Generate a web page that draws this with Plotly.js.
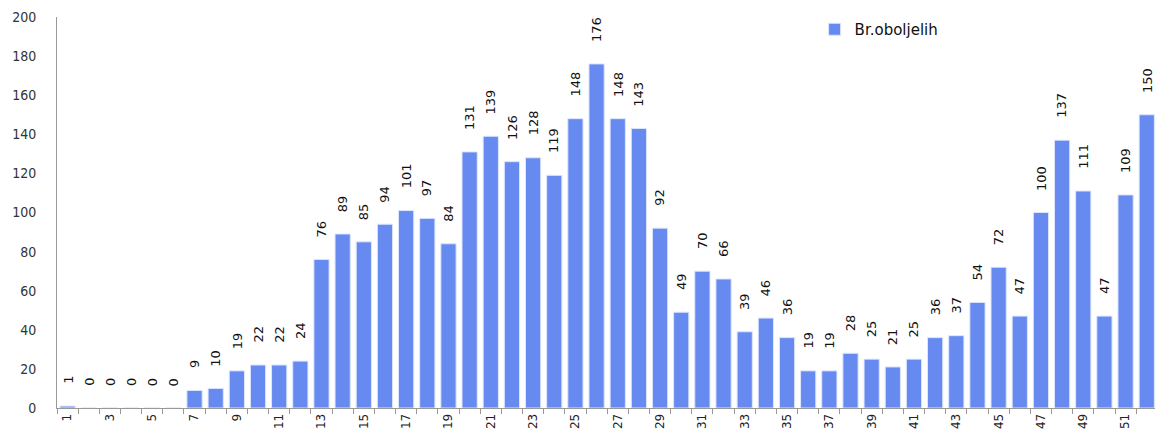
<!DOCTYPE html>
<html>
<head>
<meta charset="utf-8">
<script src="https://cdn.plot.ly/plotly-3.0.1.min.js"></script>
<style>html,body{margin:0;padding:0;background:#fff;}#chart{width:1155px;height:444px;}</style>
</head>
<body>
<div id="chart"></div>
<script>
const weeks = [1,2,3,4,5,6,7,8,9,10,11,12,13,14,15,16,17,18,19,20,21,22,23,24,25,26,27,28,29,30,31,32,33,34,35,36,37,38,39,40,41,42,43,44,45,46,47,48,49,50,51,52];
const cases = [1,0,0,0,0,0,9,10,19,22,22,24,76,89,85,94,101,97,84,131,139,126,128,119,148,176,148,143,92,49,70,66,39,46,36,19,19,28,25,21,25,36,37,54,72,47,100,137,111,47,109,150];
const seriesName = 'Br.oboljelih';
const xTickVals = weeks.filter(w => w % 2 === 1);
const xTickText = xTickVals.map(String);
const yTickVals = [0,20,40,60,80,100,120,140,160,180,200];

const labelFont = {family: 'DejaVu Sans', size: 13, color: '#111'};
const annotations = weeks.map((w, i) => ({
  x: w, y: cases[i], xref: 'x', yref: 'y',
  text: String(cases[i]), textangle: -90, showarrow: false,
  xanchor: 'center', yanchor: 'bottom', yshift: 20, font: labelFont
}));

const trace = {
  type: 'bar', x: weeks, y: cases, name: seriesName,
  marker: {color: '#678af0', line: {color: '#dce6ff', width: 1}},
  showlegend: true
};

const layout = {
  width: 1155, height: 444,
  margin: {l: 57, r: 0, t: 17, b: 36},
  paper_bgcolor: '#fff', plot_bgcolor: '#fff',
  bargap: 0.28,
  showlegend: true,
  legend: {x: 0.69, y: 0.968, xanchor: 'left', yanchor: 'middle', bgcolor: 'rgba(0,0,0,0)',
           font: {family: 'DejaVu Sans', size: 15, color: '#111'}, itemwidth: 30},
  xaxis: {
    range: [0.5, 52.39], tickmode: 'array', tickvals: xTickVals, ticktext: xTickText,
    tickangle: -90, ticks: '', showgrid: false, zeroline: false,
    showline: true, linecolor: '#999', linewidth: 1,
    tickfont: {family: 'DejaVu Sans', size: 12, color: '#222'},
    minor: {tickmode: 'linear', tick0: 0.5, dtick: 1, ticks: 'outside', ticklen: 5, tickcolor: '#999', showgrid: false}
  },
  yaxis: {
    range: [0, 200], tickmode: 'array', tickvals: yTickVals,
    ticks: 'outside', ticklen: 17, tickcolor: 'rgba(0,0,0,0)', showgrid: false, zeroline: false,
    showline: true, linecolor: '#999', linewidth: 1,
    tickfont: {family: 'DejaVu Sans Condensed', size: 14, color: '#333'}
  },
  yaxis2: {
    overlaying: 'y', side: 'left', anchor: 'x',
    range: [0, 200], tickmode: 'array', tickvals: yTickVals, showticklabels: false,
    ticks: 'outside', ticklen: 6, tickcolor: '#999', showgrid: false, zeroline: false,
    showline: false
  },
  annotations: annotations
};

Plotly.newPlot('chart', [trace], layout, {displayModeBar: false, staticPlot: true});
</script>
</body>
</html>
